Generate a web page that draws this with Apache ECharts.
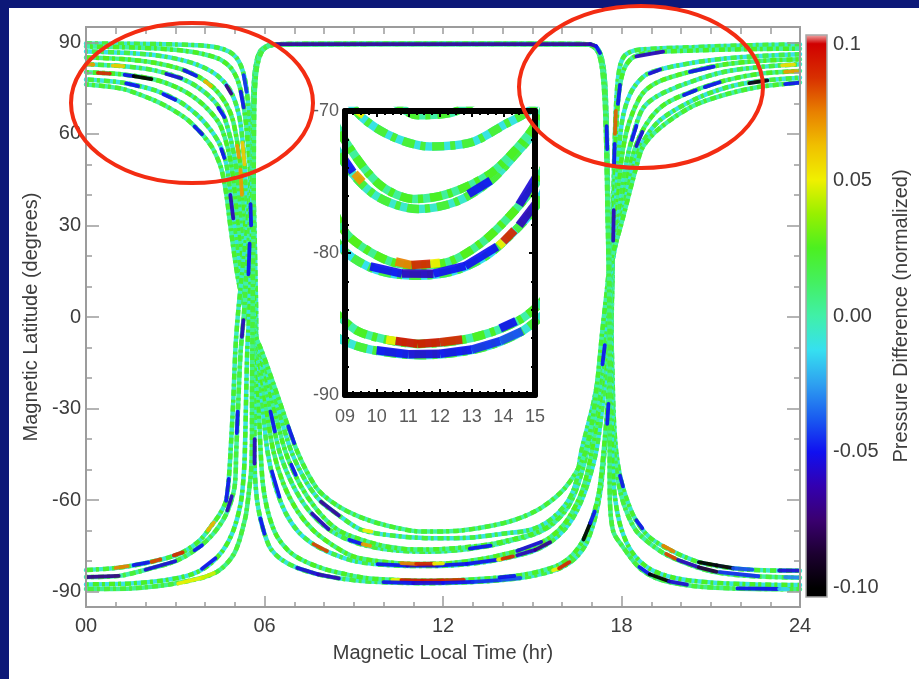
<!DOCTYPE html>
<html>
<head>
<meta charset="utf-8">
<title>Pressure difference along orbit tracks</title>
<script src="https://cdn.jsdelivr.net/npm/echarts@6/dist/echarts.min.js"></script>
<style>
html,body{margin:0;padding:0;background:#fff;}
#chart{width:919px;height:679px;}
</style>
</head>
<body>
<div id="chart"></div>
<script>
// ---------- colour scale: evenly spaced from -0.10 to 0.10 ----------
const COLOR_SCALE = ['#000000','#1c0030','#3a0070','#3300b0','#1010f0','#1a5cf0','#2ea0f0','#36e0f0',
  '#40f0a8','#44f060','#4cf020','#98f000','#f0f000','#f0c000','#e88000','#d83000','#d00000'];
const COLOR_MIN = -0.1, COLOR_MAX = 0.1;
const COLORBAR_SPAN = [-0.1035, 0.1035];
const COLORBAR_TICKS = [-0.1, -0.05, 0, 0.05, 0.1];
const COLORBAR_LABELS = ['-0.10', '-0.05', '0.00', '0.05', '0.1'];

// ---------- axis ticks ----------
const LAT_MAJOR = [-90, -60, -30, 0, 30, 60, 90];
const LAT_MINOR = [-80, -70, -50, -40, -20, -10, 10, 20, 40, 50, 70, 80];

// ---------- orbit tracks [MLT (hr), magnetic latitude (deg)] ----------
// passes over the night-side north cap and the day-side south cap
const T1 = [[0,89.6],[1.5,89.5],[3,89.3],[3.8,89.0],[4.4,88.3],[4.8,87.0],[5.05,85],[5.22,82],[5.35,77.5],[5.45,70],[5.53,60],[5.6,50],[5.66,30],[5.7,12],[5.72,0],[5.72,-11],[5.68,-27.5],[5.66,-44],[5.68,-52],[5.75,-60],[5.86,-66],[6.0,-71],[6.2,-75.8],[6.55,-79.3],[7.1,-82.2],[7.8,-84.3],[8.5,-85.6],[9.3,-86.5],[10.3,-87.0],[11.4,-87.2],[12.6,-87.0],[13.6,-86.5],[14.6,-85.5],[15.4,-84],[16,-82],[16.45,-79],[16.8,-74.5],[17.05,-68],[17.2,-62],[17.32,-55],[17.42,-45],[17.52,-35],[17.6,-22],[17.65,-11],[17.67,0],[17.69,12],[17.71,30],[17.75,50],[17.78,60],[17.82,70],[17.88,78],[17.97,83],[18.12,85.8],[18.4,87.2],[18.75,87.7],[19.3,88.0],[20.4,88.4],[21.5,88.8],[22.65,89.1],[24,89.3]];
const T2 = [[0,88.6],[1.2,88.4],[2.3,88.0],[3.3,87.2],[4.0,86.0],[4.5,84.4],[4.85,81.8],[5.08,78],[5.25,72],[5.37,64],[5.45,56],[5.5,50],[5.55,30],[5.62,12],[5.68,0],[5.74,-11],[5.8,-27.5],[5.87,-44],[5.95,-55],[6.12,-64],[6.4,-71.5],[6.8,-76.5],[7.3,-79.8],[8.0,-82.5],[8.7,-84.2],[9.4,-85.5],[10.3,-86.1],[11.3,-86.4],[12.5,-86.2],[13.6,-85.6],[14.6,-84.6],[15.3,-83.2],[15.9,-81.2],[16.35,-78],[16.75,-72.5],[17.05,-65],[17.25,-57],[17.4,-44],[17.54,-27.5],[17.62,-11],[17.66,0],[17.69,12],[17.72,25],[17.74,35],[17.77,45],[17.8,55],[17.86,68],[17.95,76],[18.1,81.5],[18.35,84.8],[18.75,86.3],[19.3,86.9],[20.4,87.3],[21.5,87.6],[22.65,87.8],[24,87.9]];
const T3 = [[0,87.0],[1.2,86.6],[2.3,85.8],[3.3,84.0],[3.9,82.0],[4.4,79.2],[4.8,75],[5.05,69.5],[5.2,63],[5.33,50],[5.42,30],[5.54,12],[5.64,0],[5.76,-11],[5.92,-27.5],[6.1,-44],[6.35,-55],[6.7,-64],[7.15,-70.5],[7.7,-74.8],[8.3,-77.6],[9.0,-79.9],[10.0,-81.2],[11.26,-81.6],[12.4,-81.3],[13.4,-80.3],[14.2,-78.8],[15.0,-76.8],[15.6,-73.8],[16.1,-69.5],[16.5,-63.5],[16.85,-55],[17.15,-44],[17.38,-27.5],[17.52,-11],[17.6,0],[17.66,12],[17.69,17],[17.78,30],[17.88,50],[18.0,63],[18.15,69.5],[18.4,75],[18.8,79.2],[19.3,81.1],[20.4,83.3],[21.5,84.7],[22.65,85.5],[24,86.1]];
const T4 = [[0,85.0],[1.2,84.5],[2.3,83.3],[3.2,81.2],[3.8,78.6],[4.3,75],[4.7,70],[4.95,64],[5.18,50],[5.3,30],[5.46,12],[5.6,0],[5.78,-11],[6.02,-27.5],[6.3,-44],[6.65,-55],[7.1,-63.5],[7.65,-70],[8.3,-74.8],[9.0,-78.5],[10.2,-80.4],[11.2,-80.9],[12.3,-80.6],[13.3,-79.3],[14.2,-77.4],[15.0,-75.2],[15.6,-72.2],[16.1,-67.5],[16.55,-60],[16.8,-53],[17.0,-44],[17.28,-27.5],[17.47,-11],[17.57,0],[17.64,12],[17.68,17],[17.82,30],[17.98,50],[18.15,60],[18.4,67.5],[18.73,73.5],[19.3,77.3],[20.4,80.6],[21.5,82.8],[22.65,83.9],[24,84.4]];
const T5 = [[0,82.8],[1.2,82.2],[2.3,80.8],[3.2,78.2],[3.8,75],[4.3,70.8],[4.65,65.5],[5.03,50],[5.2,30],[5.38,12],[5.56,0],[5.8,-11],[6.14,-27.5],[6.5,-44],[6.95,-55],[7.5,-63.5],[8.15,-69.5],[9.0,-73.7],[10.0,-76],[11.3,-76.9],[12.5,-76.4],[13.6,-74.9],[14.4,-73],[15.0,-71.4],[15.6,-68.5],[16.15,-63],[16.5,-56],[16.85,-44],[17.2,-27.5],[17.42,-11],[17.54,0],[17.63,12],[17.68,17],[17.86,30],[18.15,50],[18.4,60],[18.73,68.5],[19.3,72.9],[20.4,77.3],[21.5,80.4],[22.65,81.9],[24,82.8]];
const T6 = [[0,80.2],[1.2,79.5],[2.3,77.8],[3.1,75],[3.7,71.5],[4.2,67],[4.55,62],[4.88,50],[5.1,30],[5.3,12],[5.52,0],[5.82,-11],[6.26,-27.5],[6.7,-44],[7.2,-55],[7.75,-63],[8.4,-69.3],[9.0,-72.1],[10.1,-75.2],[11.2,-76.2],[12.3,-75.8],[13.6,-74.4],[14.4,-72.7],[15.0,-71],[15.6,-68],[16.15,-62],[16.45,-55],[16.7,-44],[17.12,-27.5],[17.38,-11],[17.52,0],[17.62,12],[17.67,17],[17.9,30],[18.3,50],[18.6,59],[19.0,65.5],[19.5,70],[20.4,74],[21.5,77.5],[22.65,79.7],[24,80.6]];
const T7 = [[0,77.8],[1.2,76.8],[2.3,74.3],[3.1,70.8],[3.7,66.5],[4.15,61.8],[4.5,56.5],[4.72,50],[4.98,30],[5.22,12],[5.47,0],[5.86,-11],[6.38,-27.5],[6.9,-44],[7.4,-54],[7.9,-60.5],[8.5,-65],[9.25,-69.7],[10.3,-71.6],[11.68,-72.5],[13.0,-72.2],[14.0,-71],[14.95,-69.7],[15.6,-66.5],[16.15,-61],[16.45,-55],[16.65,-44],[17.07,-27.5],[17.36,-11],[17.5,0],[17.62,12],[17.67,17],[17.94,30],[18.42,50],[18.73,57.5],[19.3,64.5],[20.4,71],[21.5,75.1],[22.65,77.3],[24,78.4]];
const T8 = [[0,76.2],[1.2,74.8],[2.24,71.2],[2.8,68.5],[3.36,65],[3.8,61],[4.1,57.5],[4.3,54.5],[4.55,48.5],[4.72,40],[4.85,30],[5.12,12],[5.42,0],[5.9,-11],[6.5,-27.5],[7.1,-44],[7.75,-56],[8.4,-61.5],[9.2,-65.5],[10.1,-68.3],[11.3,-70.3],[12.4,-70.1],[13.4,-68.8],[14.4,-66.5],[15.3,-62.5],[16.1,-56],[16.7,-46.5],[17.0,-35],[17.2,-20],[17.35,-5],[17.5,8],[17.61,17],[17.98,30],[18.52,50],[18.73,55.9],[19.3,62],[20.4,69.1],[21.5,72.9],[22.65,75.4],[24,76.8]];
// passes over the day-side north cap and the night-side south cap
const S1 = [[0,-82.9],[1.12,-82.1],[2.24,-80.1],[3.14,-77.6],[3.81,-73.3],[4.26,-67.8],[4.5,-64.5],[4.71,-60.2],[4.8,-53],[4.86,-44],[4.95,-27.5],[5.02,-11],[5.1,0],[5.22,12],[5.42,30],[5.56,50],[5.6,65],[5.63,75],[5.7,82],[5.82,86.5],[6.05,88.6],[6.5,89.3],[12,89.4],[16.9,89.3],[17.12,88.6],[17.3,86],[17.42,80],[17.48,70],[17.52,55],[17.55,40],[17.58,25],[17.62,10],[17.66,-5],[17.7,-20],[17.74,-33],[17.82,-44],[17.95,-52],[18.15,-59],[18.45,-66],[18.9,-71.8],[19.6,-76.2],[20.6,-80.3],[21.8,-82.4],[22.8,-83],[24,-83.1]];
const S2 = [[0,-85.2],[1.12,-84.8],[2.24,-82.2],[3.03,-79.9],[3.7,-76.1],[4.26,-71.2],[4.71,-64.6],[4.99,-55.9],[5.05,-44],[5.12,-27.5],[5.2,-11],[5.3,0],[5.38,12],[5.5,30],[5.58,50],[5.62,65],[5.65,75],[5.72,82],[5.86,86.8],[6.1,88.8],[6.6,89.35],[12,89.45],[16.8,89.35],[17.1,88.7],[17.28,86.3],[17.4,80.5],[17.47,70],[17.51,55],[17.54,40],[17.57,25],[17.61,10],[17.64,-5],[17.67,-20],[17.7,-33],[17.76,-44],[17.88,-53.5],[18.1,-62],[18.5,-70.1],[19.29,-76.6],[19.96,-79.9],[20.97,-83.2],[22.2,-84.8],[24,-85.4]];
const S3 = [[0,-87.6],[1.5,-87.3],[2.6,-86.3],[3.5,-84.5],[4.1,-81.5],[4.6,-76.5],[4.95,-70],[5.2,-61],[5.3,-52],[5.34,-44],[5.38,-27.5],[5.42,-11],[5.48,0],[5.53,12],[5.58,30],[5.6,50],[5.63,65],[5.66,75],[5.74,82.5],[5.9,87],[6.15,88.9],[6.7,89.4],[12,89.5],[16.7,89.4],[17.05,88.8],[17.25,86.5],[17.38,81],[17.46,70],[17.5,55],[17.53,40],[17.56,25],[17.6,10],[17.63,-5],[17.65,-20],[17.67,-35],[17.7,-48],[17.78,-59],[17.98,-69],[18.35,-77],[18.95,-82.5],[19.8,-85.5],[21,-87],[22.5,-87.6],[24,-87.8]];
const S4 = [[0,-89.1],[1.5,-88.9],[2.8,-87.6],[3.92,-85.4],[4.4,-83.5],[4.71,-81],[4.98,-77.5],[5.15,-73.4],[5.3,-68],[5.38,-64.6],[5.48,-57],[5.55,-50.4],[5.58,-39.5],[5.58,-27.5],[5.59,-11],[5.6,0],[5.61,12],[5.63,30],[5.64,50],[5.65,65],[5.68,75],[5.76,82.5],[5.93,87.2],[6.2,89.0],[6.8,89.45],[12,89.55],[16.6,89.45],[17.0,88.9],[17.22,86.6],[17.35,81],[17.44,70],[17.49,55],[17.52,40],[17.55,25],[17.58,10],[17.6,-5],[17.61,-20],[17.61,-35],[17.6,-50],[17.61,-60],[17.65,-66],[17.75,-71],[18.06,-75.5],[18.4,-80],[18.73,-83.2],[19.29,-86],[20.41,-88.1],[21.76,-88.9],[24,-89.2]];

const TRACKS_DAYSOUTH = [T1, T2, T3, T4, T5, T6, T7, T8];
const TRACKS_NIGHTSOUTH = [S1, S2, S3, S4];

// ---------- stretches of a track with a given pressure difference ----------
// [MLT start, lat start, MLT end, lat end, pressure difference]
const SEGMENTS = [
  // north, dawn side
  [0,82.8,0.25,82.7,0.07],[0.9,82.35,1.25,82.15,0.06],
  [0.4,80.0,0.8,79.75,0.09],[1.3,79.35,1.6,78.9,-0.05],[1.6,78.9,2.2,77.95,-0.1],
  [2.7,79.6,3.2,78.2,-0.055],[3.3,80.8,3.7,79.0,-0.05],[4.0,77.2,4.2,75.7,0.065],
  [4.45,68.5,4.65,65.5,-0.05],[4.72,75.8,4.88,73.2,-0.07],[5.2,73.8,5.3,68.7,-0.05],
  [5.3,79.2,5.4,73.8,-0.045],[5.08,56.1,5.14,52.4,0.07],[5.26,57,5.33,50,0.06],
  [4.55,55,4.65,52.1,-0.05],[1.35,76.5,1.75,75.6,-0.05],[2.6,73,3.0,71.2,-0.05],
  [3.65,62.4,3.9,59.9,-0.05],
  // dawn crossing
  [4.85,40,4.95,32.3,-0.06],[5.53,37,5.55,30,-0.05],[5.19,48.3,5.24,40,0.07],
  [5.24,-6.5,5.29,-1,-0.06],[5.07,-38,5.1,-31,-0.05],[6.8,-35.8,7.0,-41.3,-0.05],
  [6.2,-31,6.35,-37.5,-0.05],[6.9,-48.4,7.05,-51.7,-0.05],[6.25,-50.6,6.5,-58.9,-0.05],
  [5.67,-40,5.665,-48,-0.06],[5.86,-66,6.0,-71,-0.05],[4.71,-60.2,4.8,-53,-0.05],
  [4.75,-63.4,4.9,-58.7,-0.06],[4.1,-69.8,4.3,-67.3,0.065],[5.46,14,5.5,24,-0.05],
  // south, night side (dawn)
  [1.0,-82.2,1.4,-81.6,0.075],[1.6,-81.3,2.1,-80.4,-0.05],[2.2,-80.2,2.5,-79.4,0.085],
  [2.95,-78.1,3.25,-77.1,0.09],[0,-85.2,1.1,-84.8,-0.07],[2.0,-82.8,3.0,-80,-0.055],
  [3.65,-76.4,3.9,-74.8,-0.05],[3.9,-82.5,4.35,-79,-0.05],[3.1,-87.3,3.92,-85.4,0.05],
  [3.92,-85.4,4.3,-83.9,0.045],
  // south, day side
  [7.1,-82.2,7.8,-84.3,-0.055],[7.8,-84.3,8.5,-85.6,-0.06],[7.65,-74.4,8.1,-76.7,0.085],
  [7.6,-64.4,8.15,-69.5,-0.06],[7.9,-60.5,8.5,-65,-0.065],[8.85,-73,9.25,-74.3,-0.05],
  [9.3,-74.4,9.55,-75,0.07],
  [9.8,-80.94,10.8,-81.45,-0.05],[10.8,-81.45,11.8,-81.46,-0.06],[11.8,-81.46,12.8,-80.9,-0.05],
  [12.8,-80.9,13.8,-79.55,-0.05],
  [10.6,-80.6,11.1,-80.85,0.075],[11.1,-80.85,11.7,-80.76,0.09],[11.7,-80.76,12.0,-80.68,0.05],
  [13.85,-79.5,14.0,-79.2,0.05],[14.0,-79.2,14.35,-78.4,0.09],
  [14.5,-78.05,15.1,-76.3,-0.06],[15.1,-76.3,15.6,-73.8,-0.07],[14.5,-76.6,15.3,-73.7,-0.055],
  [12.9,-75.85,13.6,-74.9,-0.05],[9.35,-69.9,9.6,-70.3,0.05],
  [10.3,-86.1,10.6,-86.19,0.05],[10.6,-86.19,11.3,-86.4,0.095],[11.3,-86.4,12.0,-86.28,0.095],
  [12.0,-86.28,12.7,-86.09,0.09],
  [10.0,-86.85,11.0,-87.13,-0.05],[11.0,-87.13,12.0,-87.1,-0.055],[12.0,-87.1,13.0,-86.8,-0.05],
  [13.0,-86.8,13.9,-86.2,-0.045],[13.9,-86.2,14.6,-85.5,-0.04],[13.9,-85.3,14.4,-84.8,-0.05],
  [15.7,-83,15.9,-82.33,0.05],[15.9,-82.33,16.25,-80.33,0.09],
  [16.72,-72.9,16.95,-67.5,-0.1],[16.95,-67.5,17.1,-63.7,-0.05],
  // dusk crossing
  [17.52,-35,17.56,-28.5,-0.05],[17.36,-15.5,17.44,-9.2,-0.05],[17.72,25,17.74,35,-0.06],
  [17.75,50,17.77,56.7,-0.05],[17.78,60,17.81,67.5,0.08],[17.5,62.5,17.52,55,-0.05],
  // south, night side (dusk)
  [17.95,-52,18.05,-55.5,-0.05],[18.5,-66.6,18.7,-69.2,-0.05],
  [19.4,-74.9,19.75,-76.8,0.075],[20.6,-80.3,21.2,-81.35,-0.1],[21.2,-81.35,21.75,-82.3,-0.095],
  [21.75,-82.3,22.4,-82.76,-0.04],[23.3,-83.04,24,-83.1,-0.055],
  [19.5,-77.6,19.8,-79.1,0.085],[19.9,-79.6,20.6,-82.0,-0.06],[20.6,-82.0,21.2,-83.5,-0.085],
  [21.3,-83.6,22.6,-84.93,-0.045],[23.5,-85.23,24,-85.4,-0.03],
  [18.6,-81.9,18.95,-84.3,-0.05],[18.95,-84.3,19.6,-86.58,-0.1],[19.6,-86.58,20.2,-87.7,-0.055],
  [21.9,-88.92,23.3,-89.1,-0.05],[23.3,-89.1,23.6,-89.15,-0.015],
  // north, dusk side
  [18.5,85.4,19.4,86.94,-0.06],[18.95,79.77,19.3,81.1,-0.055],[20.3,80.3,21.1,82.0,-0.05],
  [20.1,72.7,20.5,74.3,-0.05],[20.8,75.3,21.3,76.9,-0.05],[22.3,76.6,22.9,77.5,-0.095],
  [23.5,76.3,24,76.8,-0.05],[23.5,80.27,23.9,80.53,0.07],[23.4,82.4,23.8,82.67,0.055],
  [18.35,58,18.5,62.6,-0.05],[18.5,56,18.7,60.6,-0.055],[17.88,69.8,17.95,76,-0.05],
  // day-side north cap
  [6.4,89.4,16.95,89.4,-0.065],[16.95,89.4,17.15,88.7,-0.06],[17.15,88.7,17.28,86.5,-0.05]
];

// ---------- styling ----------
const TEXT = '#3d3d3d';
const AXIS_GRAY = '#9c9c9c';
const FONT = "'Liberation Sans', Arial, sans-serif";
const NAVY = '#0c1878';
const RING = '#f32c12';
// base / overlay tone (as pressure difference) for each track
const TONES_DAYSOUTH = [[-0.008,0.02],[0.0,0.024],[-0.012,0.018],[0.004,0.026],[-0.006,0.02],[0.002,0.024],[-0.01,0.02],[0.0,0.022]];
const TONES_NIGHTSOUTH = [[-0.006,0.022],[0.0,0.02],[-0.01,0.024],[0.004,0.02]];

const pad2 = v => (v < 10 ? '0' : '') + v;
const toneColor = pd => echarts.color.lerp((pd - COLOR_MIN) / (COLOR_MAX - COLOR_MIN), COLOR_SCALE);

function trackSeries(pts, tone, k, xi, yi, width, dash, z) {
  const common = {type: 'line', xAxisIndex: xi, yAxisIndex: yi, data: pts, showSymbol: false,
    symbol: 'none', smooth: 0.3, silent: true, animation: false, z: z};
  return [
    Object.assign({}, common, {lineStyle: {color: toneColor(tone[0]), width: width, cap: 'round'}}),
    Object.assign({}, common, {lineStyle: {color: toneColor(tone[1]), width: width, type: dash, dashOffset: k * 5}})
  ];
}

function segmentSeries(xi, yi, width, cap, z) {
  return {
    type: 'custom', xAxisIndex: xi, yAxisIndex: yi, data: SEGMENTS, clip: true, silent: true,
    animation: false, z: z,
    dimensions: ['x0', 'y0', 'x1', 'y1', 'pd'],
    encode: {x: [0, 2], y: [1, 3]},
    renderItem: function (params, api) {
      const a = api.coord([api.value(0), api.value(1)]);
      const b = api.coord([api.value(2), api.value(3)]);
      return {type: 'line', shape: {x1: a[0], y1: a[1], x2: b[0], y2: b[1]},
        style: {stroke: api.visual('color'), lineWidth: width, lineCap: cap, opacity: 0.92}};
    }
  };
}

const series = [];
TRACKS_DAYSOUTH.forEach((t, k) => series.push(...trackSeries(t, TONES_DAYSOUTH[k], k, 0, 0, 4.5, [6, 3, 3, 4], 2)));
TRACKS_NIGHTSOUTH.forEach((t, k) => series.push(...trackSeries(t, TONES_NIGHTSOUTH[k], k + 3, 0, 0, 4.5, [6, 3, 3, 4], 2)));
const segMainIndex = series.length;
series.push(segmentSeries(0, 0, 3.8, 'round', 3));
TRACKS_DAYSOUTH.forEach((t, k) => series.push(...trackSeries(t, TONES_DAYSOUTH[k], k, 2, 4, 8.5, [12, 6, 5, 7], 6)));
const segInsetIndex = series.length;
series.push(segmentSeries(2, 4, 8.5, 'butt', 7));

// colour bar drawn on its own value axis
series.push({
  type: 'custom', xAxisIndex: 4, yAxisIndex: 6, data: [COLORBAR_SPAN], silent: true, animation: false,
  dimensions: ['lo', 'hi'], encode: {y: [0, 1]},
  renderItem: function (params, api) {
    const lo = api.value(0), hi = api.value(1);
    const p0 = api.coord([0, hi]);
    const p1 = api.coord([1, lo]);
    const span = hi - lo;
    const stops = [{offset: 0, color: COLOR_SCALE[0]}];
    COLOR_SCALE.forEach((c, i) => {
      const v = COLOR_MIN + i * (COLOR_MAX - COLOR_MIN) / (COLOR_SCALE.length - 1);
      stops.push({offset: (v - lo) / span, color: c});
    });
    stops.push({offset: 1, color: '#f2b4b4'});
    return {type: 'rect', shape: {x: p0[0], y: p0[1], width: p1[0] - p0[0], height: p1[1] - p0[1]},
      style: {fill: new echarts.graphic.LinearGradient(0, 1, 0, 0, stops), stroke: '#a8a8a8', lineWidth: 1.5}};
  }
});

const lineStyle = {color: AXIS_GRAY, width: 2};
const tickStyle = {color: AXIS_GRAY, width: 1.5};
const labelStyle = {fontSize: 20, color: TEXT, fontFamily: FONT};

function mltAxis(position, showLabel) {
  return {
    gridIndex: 0, type: 'value', min: 0, max: 24, interval: 6, position: position, z: 4,
    axisLine: {show: true, onZero: false, lineStyle: lineStyle},
    axisTick: {show: true, inside: true, length: position === 'bottom' ? 11 : 7, lineStyle: tickStyle},
    minorTick: {show: true, splitNumber: 6, length: position === 'bottom' ? 5 : 7, lineStyle: tickStyle},
    splitLine: {show: false}, minorSplitLine: {show: false},
    axisLabel: Object.assign({show: showLabel, margin: 9, formatter: v => pad2(v)}, labelStyle),
    name: showLabel ? 'Magnetic Local Time (hr)' : '', nameLocation: 'middle', nameGap: 36,
    nameTextStyle: {fontSize: 20, color: TEXT, fontFamily: FONT}
  };
}
function latAxis(position, values, len, showLabel) {
  return {
    gridIndex: 0, type: 'value', min: -95, max: 95, position: position, z: 4,
    axisLine: {show: true, onZero: false, lineStyle: lineStyle},
    axisTick: {show: true, inside: true, length: len, customValues: values, lineStyle: tickStyle},
    axisLabel: Object.assign({show: showLabel, customValues: values, margin: 5}, labelStyle),
    splitLine: {show: false},
    name: showLabel ? 'Magnetic Latitude (degrees)' : '', nameLocation: 'middle', nameGap: 38,
    nameTextStyle: {fontSize: 20, color: TEXT, fontFamily: FONT}
  };
}
const insetLine = {color: '#000', width: 6};
const insetTick = {color: '#000', width: 2};
const insetLabel = {fontSize: 18, color: '#5a5a5a', fontFamily: FONT};
function insetX(position, showLabel) {
  return {
    gridIndex: 1, type: 'value', min: 9, max: 15, interval: 1, position: position, z: 8,
    axisLine: {show: true, onZero: false, lineStyle: insetLine},
    axisTick: {show: true, inside: true, length: 6, lineStyle: insetTick},
    minorTick: {show: true, splitNumber: 4, length: 4, lineStyle: insetTick},
    splitLine: {show: false},
    axisLabel: Object.assign({show: showLabel, margin: 13, formatter: v => pad2(v)}, insetLabel)
  };
}
function insetY(position, showLabel) {
  return {
    gridIndex: 1, type: 'value', min: -90, max: -70, interval: 10, position: position, z: 8,
    axisLine: {show: true, onZero: false, lineStyle: insetLine},
    axisTick: {show: true, inside: true, length: 6, lineStyle: insetTick},
    minorTick: {show: true, splitNumber: 5, length: 4, lineStyle: insetTick},
    splitLine: {show: false},
    axisLabel: Object.assign({show: showLabel, margin: 6}, insetLabel)
  };
}

const option = {
  backgroundColor: '#ffffff',
  animation: false,
  textStyle: {fontFamily: FONT},
  grid: [
    {left: 86, top: 27, width: 714, height: 580},
    {left: 345, top: 111, width: 190, height: 284},
    {left: 806, top: 35, width: 21, height: 562}
  ],
  xAxis: [
    mltAxis('bottom', true),
    mltAxis('top', false),
    insetX('bottom', true),
    insetX('top', false),
    {gridIndex: 2, type: 'value', min: 0, max: 1, show: false}
  ],
  yAxis: [
    latAxis('left', LAT_MAJOR, 13, true),
    latAxis('left', LAT_MINOR, 6, false),
    latAxis('right', LAT_MAJOR, 13, false),
    latAxis('right', LAT_MINOR, 6, false),
    insetY('left', true),
    insetY('right', false),
    {
      gridIndex: 2, type: 'value', min: COLORBAR_SPAN[0], max: COLORBAR_SPAN[1], position: 'right',
      axisLine: {show: false}, axisTick: {show: false}, splitLine: {show: false},
      axisLabel: Object.assign({customValues: COLORBAR_TICKS, margin: 6,
        formatter: v => COLORBAR_LABELS[COLORBAR_TICKS.findIndex(t => Math.abs(t - v) < 1e-9)]}, labelStyle),
      name: 'Pressure Difference (normalized)', nameLocation: 'middle', nameRotate: 90, nameGap: 64,
      nameTextStyle: {fontSize: 20, color: TEXT, fontFamily: FONT}
    }
  ],
  visualMap: {
    type: 'continuous', show: false, min: COLOR_MIN, max: COLOR_MAX, dimension: 4,
    seriesIndex: [segMainIndex, segInsetIndex], inRange: {color: COLOR_SCALE}
  },
  graphic: [
    {type: 'rect', shape: {x: 0, y: 0, width: 919, height: 8}, style: {fill: NAVY}, z: 100},
    {type: 'rect', shape: {x: 0, y: 0, width: 9, height: 679}, style: {fill: NAVY}, z: 100},
    {type: 'ellipse', shape: {cx: 192, cy: 103, rx: 121, ry: 80}, style: {fill: 'transparent', stroke: RING, lineWidth: 4}, z: 100},
    {type: 'ellipse', shape: {cx: 641, cy: 87, rx: 122, ry: 81}, style: {fill: 'transparent', stroke: RING, lineWidth: 4}, z: 100}
  ],
  series: series
};

const chart = echarts.init(document.getElementById('chart'), null, {renderer: 'canvas'});
chart.setOption(option);
</script>
</body>
</html>
